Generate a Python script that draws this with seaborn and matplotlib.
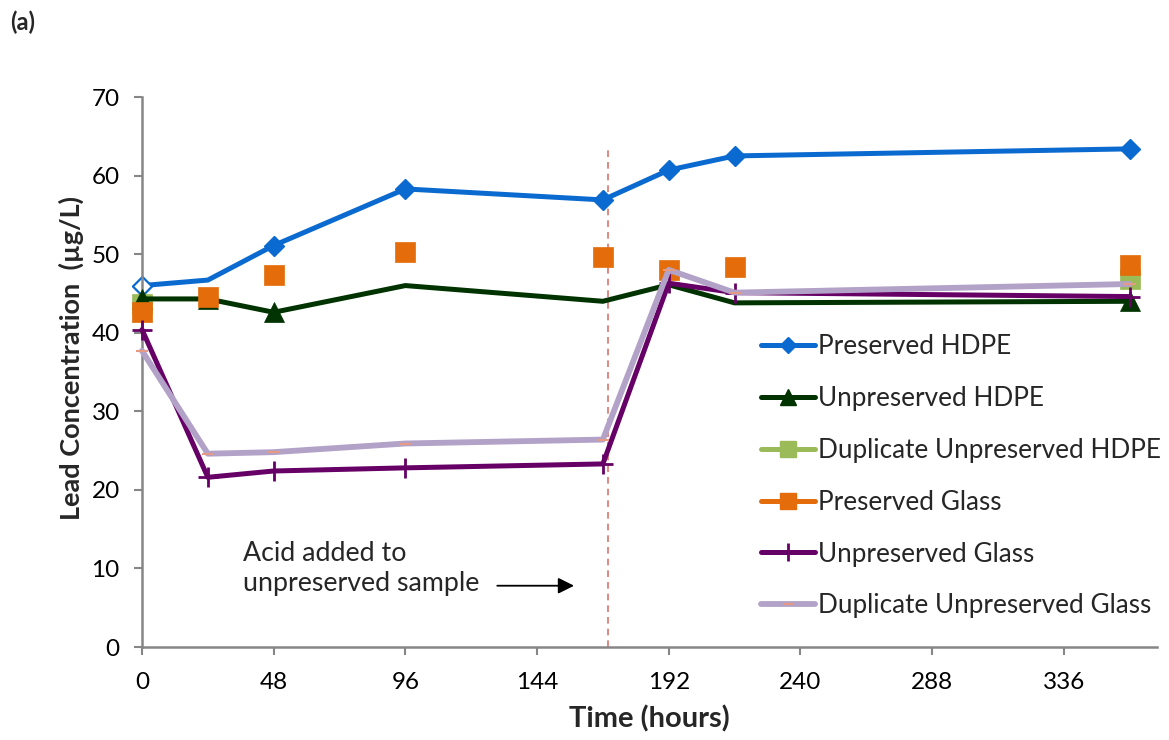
import numpy as np
import pandas as pd
import matplotlib
matplotlib.use("Agg")
import matplotlib.pyplot as plt
import seaborn as sns
from matplotlib.lines import Line2D

# Sampling times (hours) and lead concentrations (ug/L) for each container type
hours = [0, 24, 48, 96, 168, 192, 216, 360]
preserved_hdpe = [46.0, 46.7, 51.1, 58.3, 56.9, 60.7, 62.5, 63.4]
unpreserved_hdpe = [44.3, 44.3, 42.6, 46.0, 44.0, 46.1, 43.8, 44.0]
dup_unpreserved_hdpe = [43.6, np.nan, np.nan, np.nan, np.nan, np.nan, np.nan, 46.8]
preserved_glass = [42.7, 44.6, 47.3, 50.3, 49.7, 48.0, 48.4, 48.6]
unpreserved_glass = [40.4, 21.6, 22.4, 22.8, 23.3, 46.3, 45.1, 44.6]
dup_unpreserved_glass = [37.7, 24.6, 24.8, 25.9, 26.4, 48.0, 45.1, 46.2]

series_names = ["Preserved HDPE", "Unpreserved HDPE", "Duplicate Unpreserved HDPE",
                "Preserved Glass", "Unpreserved Glass", "Duplicate Unpreserved Glass"]
acid_time = 170
x_ticks = [0, 48, 96, 144, 192, 240, 288, 336]
y_ticks = [0, 10, 20, 30, 40, 50, 60, 70]

sns.set_style("white")
plt.rcParams["font.family"] = ["Lato", "DejaVu Sans"]

BLUE = "#0A6ACF"
DGREEN = "#003300"
LGREEN = "#9BBB59"
ORANGE = "#E46C0A"
PURPLE = "#660066"
LAVENDER = "#B3A2C7"
DASH = "#E59A84"
AXIS = "#868686"

fig = plt.figure(figsize=(11.69, 7.40), dpi=100)
ax = fig.add_axes([142 / 1169, 1 - 647 / 740, 1015 / 1169, 550 / 740])

df = pd.DataFrame({
    "hours": hours,
    "ph": preserved_hdpe,
    "uh": unpreserved_hdpe,
    "duh": dup_unpreserved_hdpe,
    "pg": preserved_glass,
    "ug": unpreserved_glass,
    "dug": dup_unpreserved_glass,
})

LW = 3.6

# Preserved HDPE (first sample shown as an open marker)
sns.lineplot(data=df, x="hours", y="ph", ax=ax, color=BLUE, lw=LW,
             marker="D", markersize=10, markeredgecolor=BLUE, markeredgewidth=1,
             markevery=[2, 3, 4, 5, 6, 7], zorder=2, clip_on=False)
sns.scatterplot(data=df.iloc[[0]], x="hours", y="ph", ax=ax, marker="D", s=95,
                facecolor="white", edgecolor=BLUE, linewidth=1.6, zorder=2.1,
                clip_on=False)

# Unpreserved HDPE
sns.lineplot(data=df, x="hours", y="uh", ax=ax, color=DGREEN, lw=LW,
             marker="^", markersize=14, markeredgecolor=DGREEN, markeredgewidth=0.5,
             markevery=[0, 1, 2, 7], zorder=3, clip_on=False)

# Duplicate unpreserved HDPE (only first and last samples)
dup_pts = df.dropna(subset=["duh"])
sns.scatterplot(data=dup_pts, x="hours", y="duh", ax=ax, marker="s", s=190,
                color=LGREEN, edgecolor=LGREEN, linewidth=0.5, zorder=2.9,
                clip_on=False)

# Preserved glass (markers only)
sns.scatterplot(data=df, x="hours", y="pg", ax=ax, marker="s", s=190,
                color=ORANGE, edgecolor=ORANGE, linewidth=0.5, zorder=4,
                clip_on=False)

# Unpreserved glass
sns.lineplot(data=df, x="hours", y="ug", ax=ax, color=PURPLE, lw=LW,
             marker="+", markersize=14, markeredgecolor=PURPLE, markeredgewidth=2,
             zorder=5, clip_on=False)

# Duplicate unpreserved glass
sns.lineplot(data=df, x="hours", y="dug", ax=ax, color=LAVENDER, lw=4.2,
             marker="_", markersize=8, markeredgecolor=DASH, markeredgewidth=1.5,
             zorder=6, clip_on=False)

# Time at which acid was added to the unpreserved samples
ax.axvline(acid_time, ymin=0, ymax=63.6 / 70, color="#D9756E", lw=1.2,
           ls=(0, (4, 3)), zorder=1)

ax.text(36.8, 10.0, "Acid added to\nunpreserved sample", fontsize=19.3,
        ha="left", va="center", linespacing=1.22)
ax.annotate("", xy=(157.5, 7.8), xytext=(129.5, 7.8),
            arrowprops=dict(arrowstyle="-|>", color="black", lw=1.3,
                            mutation_scale=24, shrinkA=0, shrinkB=0))

ax.set_xlim(0, 370)
ax.set_ylim(0, 70)
ax.set_xticks(x_ticks)
ax.set_yticks(y_ticks)
ax.tick_params(axis="both", labelsize=17.5, colors=AXIS, labelcolor="black",
               length=6, width=1.5, direction="out")
ax.tick_params(axis="x", pad=12)
ax.tick_params(axis="y", pad=10)
ax.tick_params(bottom=True, left=True)
for side in ["top", "right"]:
    ax.spines[side].set_visible(False)
for side in ["left", "bottom"]:
    ax.spines[side].set_color(AXIS)
    ax.spines[side].set_linewidth(1.8)
ax.grid(False)

ax.set_xlabel("Time (hours)", fontsize=21, fontweight="bold")
ax.set_ylabel("Lead Concentration  (µg/L)", fontsize=19.5, fontweight="bold")
ax.xaxis.set_label_coords(0.5, -0.106)
ax.yaxis.set_label_coords(-0.057, 0.525)

handles = [
    Line2D([], [], color=BLUE, lw=LW, marker="D", markersize=8, markeredgecolor=BLUE),
    Line2D([], [], color=DGREEN, lw=LW, marker="^", markersize=12, markeredgecolor=DGREEN),
    Line2D([], [], color=LGREEN, lw=LW, marker="s", markersize=11, markeredgecolor=LGREEN),
    Line2D([], [], color=ORANGE, lw=LW, marker="s", markersize=11, markeredgecolor=ORANGE),
    Line2D([], [], color=PURPLE, lw=LW, marker="+", markersize=13, markeredgecolor=PURPLE,
           markeredgewidth=2),
    Line2D([], [], color=LAVENDER, lw=4.2, marker="_", markersize=7, markeredgecolor=DASH,
           markeredgewidth=1.5),
]
leg = fig.legend(handles, series_names, loc="upper left",
                 bbox_to_anchor=(761 / 1169, 1 - 334 / 740), frameon=False,
                 fontsize=18.8, handlelength=2.05, handletextpad=0.15,
                 labelspacing=1.03, borderpad=0, borderaxespad=0)

fig.text(10 / 1169, 1 - 22 / 740, "(a)", fontsize=17, fontweight="bold",
         ha="left", va="center")

fig.savefig("out.png", dpi=100)
